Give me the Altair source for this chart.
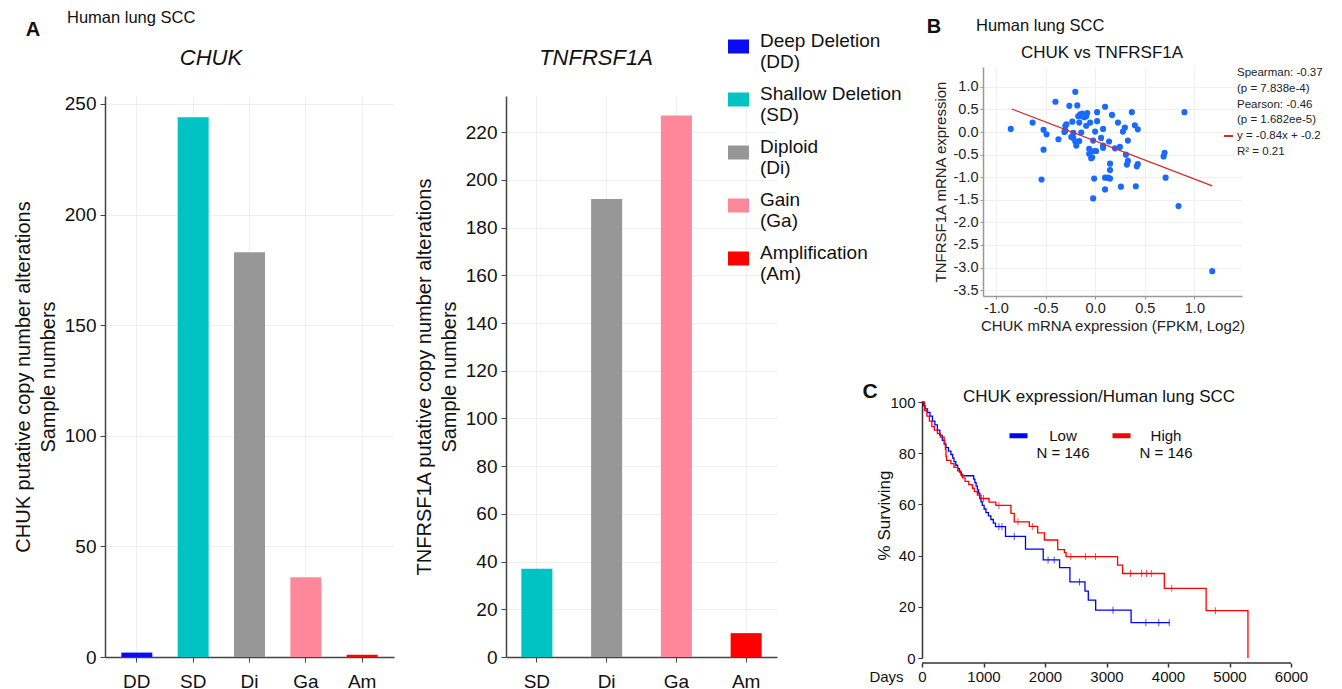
import altair as alt
import pandas as pd

FONT = "Liberation Sans"

# ---------------- Panel A data ----------------
cna_codes = ["DD", "SD", "Di", "Ga", "Am"]
cna_names = ["Deep Deletion", "Shallow Deletion", "Diploid", "Gain", "Amplification"]
cna_colors = ["#0a0af5", "#00c3c3", "#979797", "#ff879a", "#ff0000"]

chuk_cats = ["DD", "SD", "Di", "Ga", "Am"]
chuk_counts = [2, 244, 183, 36, 1]
tnf_cats = ["SD", "Di", "Ga", "Am"]
tnf_counts = [37, 192, 227, 10]

# ---------------- Panel B data ----------------
b_x = [-0.85, -0.63, -0.52, -0.49, -0.52, -0.54, -0.40, -0.37, -0.31, -0.30, -0.29, -0.30,
       -0.26, -0.20, -0.18, -0.23, -0.24, -0.22, -0.22, -0.20, -0.19, -0.16, -0.16, -0.17,
       -0.15, -0.13, -0.11, -0.08, -0.09, -0.13, -0.14, -0.09, -0.05, 0.00, -0.02, -0.06,
       -0.06, -0.04, -0.01, 0.01, -0.03, 0.02, 0.02, 0.08, 0.10, 0.08, 0.08, 0.06, 0.14,
       0.17, 0.23, 0.20, 0.25, 0.28, 0.30, 0.33, 0.31, 0.32, 0.33, 0.37, 0.40, 0.43, 0.42,
       0.43, 0.15, 0.15, 0.10, 0.13, 0.15, -0.01, 0.10, -0.02, 0.26, 0.41, 0.69, 0.70,
       0.71, 0.90, 0.84, 1.18]
b_y = [0.07, 0.21, 0.05, -0.05, -0.39, -1.05, 0.67, -0.16, 0.00, 0.14, 0.17, 0.03,
       0.58, 0.89, 0.59, 0.23, -0.11, -0.02, -0.13, -0.21, -0.30, -0.20, 0.21, 0.35,
       0.39, 0.41, 0.33, 0.42, 0.35, 0.35, -0.01, 0.14, 0.21, 0.01, -0.19, -0.37,
       -0.48, -0.58, -0.42, -0.42, -0.56, 0.44, 0.24, 0.07, 0.56, -0.30, -0.35, -0.13, -0.21,
       0.38, 0.21, -0.36, -0.33, 0.01, 0.10, -0.19, -0.50, -0.72, -0.64, 0.44, 0.15, 0.06, -0.76,
       -0.71, -0.70, -0.84, -1.01, -1.01, -1.03, -1.03, -1.27, -1.47, -1.21, -1.20, -0.54, -0.46,
       -1.01, 0.44, -1.64, -3.08]
fit_x = [-0.84, 1.18]
fit_y = [0.51, -1.19]
stats_lines = ["Spearman: -0.37", "(p = 7.838e-4)", "Pearson: -0.46",
               "(p = 1.682ee-5)", "y = -0.84x + -0.2", "R² = 0.21"]

# ---------------- Panel C data ----------------
km_groups = ["Low", "High"]
km_n = [146, 146]
km_colors = ["#0000ff", "#ff0000"]
low_days = [0, 20, 50, 90, 130, 170, 210, 250, 290, 330, 360, 390, 430, 470, 500, 520, 550,
            580, 610, 640, 840, 860, 880, 900, 920, 940, 960, 980, 1010, 1040, 1080, 1120,
            1160, 1195, 1358, 1683, 1971, 2237, 2405, 2650, 2704, 2824, 3400, 4027]
low_surv = [100, 98.6, 97.3, 95.9, 94.5, 92.5, 91.1, 89.0, 87.0, 85.0, 83.6, 82.2, 80.8,
            79.5, 78.1, 76.7, 75.3, 74.0, 72.6, 71.2, 69.9, 68.5, 67.1, 65.7, 64.4, 62.3,
            61.0, 59.6, 58.2, 56.8, 55.5, 54.1, 52.7, 51.3, 47.5, 42.5, 38.3, 35.3, 29.7,
            26.1, 22.6, 18.7, 13.8, 13.8]
high_days = [0, 40, 80, 120, 160, 200, 250, 300, 360, 370, 380, 390, 400, 470, 520, 580,
             630, 660, 700, 760, 820, 850, 900, 960, 1090, 1200, 1446, 1500, 1745, 1881,
             1990, 2207, 2316, 2343, 3180, 3262, 3940, 4620, 5300]
high_surv = [100, 96.6, 94.5, 92.5, 90.4, 89.0, 87.7, 86.3, 85.0, 83.6, 81.5, 78.8, 77.2,
             75.9, 74.5, 73.1, 71.8, 70.4, 69.0, 67.7, 66.3, 65.0, 63.6, 62.3, 60.9, 59.6,
             56.5, 53.2, 51.4, 48.9, 46.1, 42.3, 41.2, 39.6, 36.3, 33.0, 27.2, 18.5, 0]
low_cens_days = [1250, 1300, 1500, 2050, 2150, 2560, 3106, 3640, 3850, 4020]
low_cens_surv = [51.3, 51.3, 47.5, 38.3, 38.3, 29.7, 18.7, 13.8, 13.8, 13.8]
high_cens_days = [1000, 1250, 1560, 1800, 2420, 2660, 2820, 3390, 3570, 3650, 3730, 4060, 4770]
high_cens_surv = [62.3, 59.6, 53.2, 51.4, 39.6, 39.6, 39.6, 33.0, 33.0, 33.0, 33.0, 27.2, 18.5]
day_ticks = [0, 1000, 2000, 3000, 4000, 5000, 6000]


def note(text, x, y, size, weight="normal", style="normal", align="left",
         baseline="middle", color="#111111", **kw):
    return alt.Chart(alt.Data(values=[{"t": text}])).mark_text(
        align=align, baseline=baseline, fontSize=size, fontWeight=weight,
        fontStyle=style, color=color, font=FONT, **kw
    ).encode(x=alt.value(x), y=alt.value(y), text="t:N")


def spacer():
    return alt.Chart(alt.Data(values=[{"s": 0}])).mark_point(opacity=0).encode(
        x=alt.value(0), y=alt.value(0)).properties(width=1, height=1)


# ---------------- Panel A ----------------
label_expr = " : ".join(
    f"datum.label == '{c}' ? ['{n}', '({c})']" for c, n in zip(cna_codes, cna_names)
) + " : datum.label"

cna_legend = alt.Legend(
    title=None, orient="none", legendX=623, legendY=-31, direction="vertical",
    symbolType="M-1,-0.667H1V0.667H-1Z", symbolSize=441, symbolStrokeWidth=0,
    symbolOpacity=1, labelFontSize=19, labelFont=FONT, labelColor="#111111",
    labelOffset=11, labelExpr=label_expr, rowPadding=12, labelBaseline="alphabetic",
    labelLimit=400, padding=0)

color_enc = alt.Color("cat:N", scale=alt.Scale(domain=cna_codes, range=cna_colors),
                      legend=cna_legend)


def bar_panel(cats, counts, ymax, yvals, ytitle, width, p_in, p_out):
    df = pd.DataFrame({"cat": cats, "n": counts})
    return alt.Chart(df).mark_bar().encode(
        x=alt.X("cat:N", sort=cats,
                scale=alt.Scale(paddingInner=p_in, paddingOuter=p_out),
                axis=alt.Axis(title=None, labelAngle=0, labelFontSize=19, tickSize=5,
                              labelPadding=10, labelColor="#111111", domainColor="#444444",
                              tickColor="#444444", domainWidth=1.5, grid=True,
                              gridColor="#efefef", bandPosition=0.5)),
        y=alt.Y("n:Q", scale=alt.Scale(domain=[0, ymax], nice=False),
                axis=alt.Axis(values=yvals, title=ytitle, titleFontSize=20,
                              titleFontWeight="normal", titleLineHeight=25,
                              titlePadding=6, labelFontSize=19, tickSize=5,
                              labelPadding=4, labelColor="#111111", titleColor="#111111",
                              domainColor="#444444", tickColor="#444444", domainWidth=1.5,
                              grid=True, gridColor="#efefef", labelFlush=False)),
        color=color_enc,
    ).properties(width=width, height=561)


a1_bars = bar_panel(chuk_cats, chuk_counts, 253.6, [0, 50, 100, 150, 200, 250],
                    ["CHUK putative copy number alterations", "Sample numbers"],
                    289, 0.45, 0.29)
a1 = alt.layer(
    a1_bars,
    note("A", -72, -66, 20, weight="bold", align="center"),
    note("Human lung SCC", -38, -78, 16.5),
    note("CHUK", 106, -38, 22, style="italic", align="center"),
)

a2_bars = bar_panel(tnf_cats, tnf_counts, 235.2, list(range(0, 221, 20)),
                    ["TNFRSF1A putative copy number alterations", "Sample numbers"],
                    271, 0.555, 0.22)
a2 = alt.layer(
    a2_bars,
    note("TNFRSF1A", 90, -38, 22, style="italic", align="center"),
)

wa1 = alt.vconcat(spacer(), a1, spacing=28, bounds="flush")
wa2 = alt.vconcat(spacer(), a2, spacing=28, bounds="flush")

# ---------------- Panel B ----------------
minus_fix = "replace(format(datum.value, '.1f'), '\u2212', '-')"
b_df = pd.DataFrame({"x": b_x, "y": b_y})
fit_df = pd.DataFrame({"x": fit_x, "y": fit_y})

bx = alt.X("x:Q", scale=alt.Scale(domain=[-1.13, 1.48], nice=False, zero=False),
           axis=alt.Axis(values=[-1, -0.5, 0, 0.5, 1], labelExpr=minus_fix,
                         title="CHUK mRNA expression (FPKM, Log2)", titleFontSize=15,
                         titleFontWeight="normal", labelFontSize=14.5, tickSize=3,
                         labelPadding=2, titlePadding=4, domainColor="#999999",
                         tickColor="#999999", domainWidth=1.5, gridColor="#f0f0f0",
                         labelColor="#222222", titleColor="#222222", labelFlush=False))
by = alt.Y("y:Q", scale=alt.Scale(domain=[-3.63, 1.44], nice=False, zero=False),
           axis=alt.Axis(values=[-3.5, -3, -2.5, -2, -1.5, -1, -0.5, 0, 0.5, 1],
                         labelExpr=minus_fix, title="TNFRSF1A mRNA expression",
                         titleFontSize=15, titleFontWeight="normal", labelFontSize=14.5,
                         tickSize=3, labelPadding=2, titlePadding=5,
                         domainColor="#999999", tickColor="#999999", domainWidth=1.5,
                         gridColor="#f0f0f0", labelColor="#222222",
                         titleColor="#222222", labelFlush=False))

b_points = alt.Chart(b_df).mark_circle(size=38, color="#1a6aff", opacity=1).encode(x=bx, y=by)
b_fit = alt.Chart(fit_df).mark_line(color="#d42a2a", strokeWidth=1.3).encode(x=bx, y=by)
b_glyph = alt.Chart(alt.Data(values=[{"s": 0}])).mark_rule(
    color="#d42a2a", strokeWidth=2).encode(x=alt.value(241), x2=alt.value(250), y=alt.value(69))

b = alt.layer(
    b_points, b_fit, b_glyph,
    note("\n".join(stats_lines), 254, 0, 11.5, baseline="top", lineBreak="\n",
         lineHeight=15.8, color="#222222"),
    note("B", -49, -40, 20, weight="bold", align="center"),
    note("Human lung SCC", -7, -41, 16.5),
    note("CHUK vs TNFRSF1A", 119, -14, 17, align="center"),
).properties(width=259, height=229)

# ---------------- Panel C ----------------
C_W = 381
c_xmax = day_ticks[-1] * C_W / 369

km_df = pd.concat([
    pd.DataFrame({"day": low_days, "surv": low_surv, "grp": km_groups[0]}),
    pd.DataFrame({"day": high_days, "surv": high_surv, "grp": km_groups[1]}),
])
low_cens = pd.DataFrame({"day": low_cens_days, "surv": low_cens_surv})
high_cens = pd.DataFrame({"day": high_cens_days, "surv": high_cens_surv})
axis_span = pd.DataFrame({"d0": [day_ticks[0]], "d1": [day_ticks[-1]]})

km_label_expr = " : ".join(
    f"datum.label == '{g}' ? ['{g}', 'N = {n}']" for g, n in zip(km_groups, km_n)
) + " : datum.label"

km_legend = alt.Legend(
    title=None, orient="none", legendX=85, legendY=22, direction="horizontal",
    symbolType="stroke", symbolSize=324, symbolStrokeWidth=5, labelFontSize=15,
    labelFont=FONT, labelColor="#111111", labelAlign="center", labelOffset=33,
    labelExpr=km_label_expr, columnPadding=12, labelBaseline="middle", padding=0)

c_xscale = alt.Scale(domain=[0, c_xmax], nice=False)
cx = alt.X("day:Q", scale=c_xscale,
           axis=alt.Axis(values=day_ticks, format="d", domain=False,
                         offset=5, tickSize=4, labelFontSize=15, labelPadding=2,
                         title="Days", titleFontSize=15, titleFontWeight="normal",
                         titleX=-36, titleY=13, titleAlign="center",
                         titleBaseline="middle", grid=False,
                         tickColor="#333333", tickWidth=1.5, labelColor="#111111",
                         titleColor="#111111", labelFlush=False))
cy = alt.Y("surv:Q", scale=alt.Scale(domain=[0, 100], nice=False),
           axis=alt.Axis(values=[0, 20, 40, 60, 80, 100], tickSize=4, labelFontSize=15,
                         labelPadding=3, title="% Surviving", titleFontSize=17,
                         titleFontWeight="normal", titleX=-38, titleY=113,
                         titleAlign="center", titleBaseline="middle", titleAngle=-90,
                         grid=False, domainColor="#333333", tickColor="#333333",
                         domainWidth=1.5, labelColor="#111111", titleColor="#111111",
                         labelFlush=False))

c_lines = alt.Chart(km_df).mark_line(interpolate="step-after", strokeWidth=1.3).encode(
    x=cx, y=cy,
    stroke=alt.Stroke("grp:N", scale=alt.Scale(domain=km_groups, range=km_colors),
                      legend=km_legend))
c_low_ticks = alt.Chart(low_cens).mark_tick(orient="vertical", size=7, thickness=1,
                                            color=km_colors[0]).encode(x=cx, y=cy)
c_high_ticks = alt.Chart(high_cens).mark_tick(orient="vertical", size=7, thickness=1,
                                              color=km_colors[1]).encode(x=cx, y=cy)
c_xdomain = alt.Chart(axis_span).mark_rule(color="#333333", strokeWidth=1.5).encode(
    x=alt.X("d0:Q", scale=c_xscale), x2="d1:Q", y=alt.value(261))

c = alt.layer(
    c_lines, c_low_ticks, c_high_ticks, c_xdomain,
    note("C", -52, -10, 21, weight="bold", align="center"),
    note("CHUK expression/Human lung SCC", 177, -5, 17, align="center"),
).properties(width=C_W, height=256)

bc = alt.vconcat(b, c, spacing=106, bounds="flush", center=True).resolve_scale(
    stroke="independent")

chart = alt.hconcat(
    alt.hconcat(wa1, wa2, spacing=20),
    bc,
    spacing=85,
).properties(
    padding={"left": 5, "top": 2, "right": 2, "bottom": 0}
).configure(font=FONT).configure_view(strokeWidth=0)

chart.save("out.html", embed_options={"renderer": "svg", "actions": False})
